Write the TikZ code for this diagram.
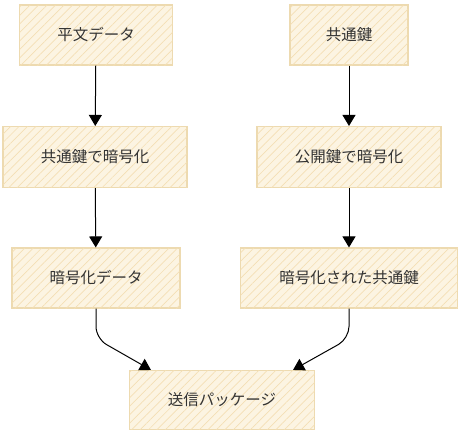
\documentclass[tikz,border=0pt]{standalone}
\usepackage{fontspec}
\newfontfamily\jpfont{Noto Sans CJK JP}
\usetikzlibrary{arrows.meta,patterns.meta}
\definecolor{boxfill}{HTML}{FCF4E2}
\definecolor{boxline}{HTML}{EDDAB0}
\definecolor{hatch}{HTML}{F4DFB4}
\definecolor{txt}{HTML}{333333}
\tikzset{
  box/.style={draw=boxline, line width=1.1pt, fill=boxfill,
    postaction={pattern={Lines[angle=45,distance=6pt,line width=0.7pt]}, pattern color=hatch},
    minimum height=60pt, inner sep=0pt, text=txt, font=\jpfont\fontsize{15.5}{18}\selectfont},
  flow/.style={line width=1pt, -{Triangle[length=11pt,width=13pt]}}
}
\begin{document}
\begin{tikzpicture}[x=1pt,y=-1pt]
\useasboundingbox (0,0) rectangle (460,434);

\node[box, minimum width=153pt] (plain) at (96,35) {平文データ};
\node[box, minimum width=118pt] (key) at (349,35) {共通鍵};

\node[box, minimum width=184pt, minimum height=61pt] (symenc) at (95,157) {共通鍵で暗号化};
\node[box, minimum width=184pt, minimum height=61pt] (pubenc) at (349,157) {公開鍵で暗号化};

\node[box, minimum width=168pt] (encdata) at (96,278) {暗号化データ};
\node[box, minimum width=217pt] (enckey) at (349,278) {暗号化された共通鍵};

\node[box, minimum width=185pt, minimum height=59pt] (pkg) at (222,400) {送信パッケージ};

\draw[flow] (plain) -- (symenc);
\draw[flow] (symenc) -- (encdata);
\draw[flow] (key) -- (pubenc);
\draw[flow] (pubenc) -- (enckey);
\draw[flow, rounded corners=12pt] (encdata.south) -- ++(0,30) -- ([xshift=22pt]pkg.north west);
\draw[flow, rounded corners=12pt] (enckey.south) -- ++(0,30) -- ([xshift=-22pt]pkg.north east);
\end{tikzpicture}
\end{document}
